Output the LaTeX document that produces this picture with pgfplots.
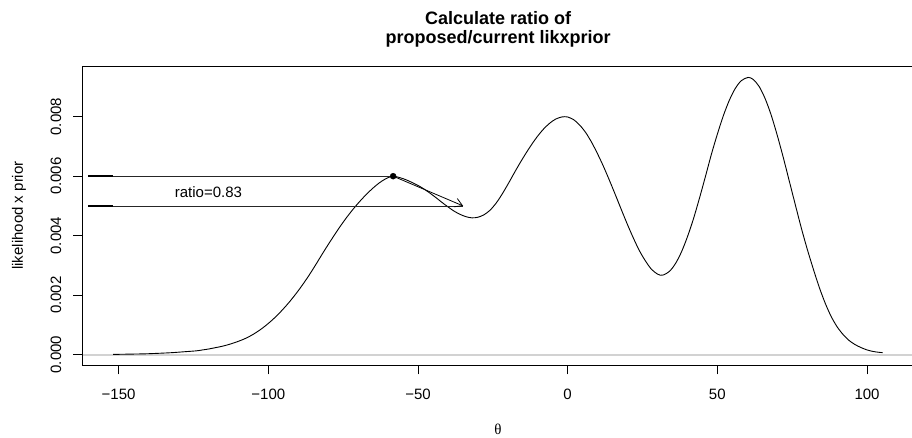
\documentclass[border=0pt]{standalone}
\usepackage{fontspec}
\setmainfont{Liberation Sans}
\newfontfamily\thetafont{Liberation Serif}
\usepackage{pgfplots}
\pgfplotsset{compat=1.18}
\usetikzlibrary{arrows.meta}
\begin{document}
\begin{tikzpicture}[font=\fontsize{15}{18}\selectfont]
\useasboundingbox (0,0) rectangle (912pt,438pt);
\begin{axis}[
  at={(82.7pt,73pt)}, anchor=south west,
  scale only axis, width=830.7pt, height=299pt,
  xmin=-162.0, xmax=115.5, ymin=-0.000346, ymax=0.009704,
  axis line style={black, line width=0.8pt},
  tick pos=left, tick align=outside, major tick length=9.5pt,
  tick style={black, line width=0.8pt},
  xtick={-150,-100,-50,0,50,100},
  xticklabels={−150,−100,−50,0,50,100},
  ytick={0,0.002,0.004,0.006,0.008},
  yticklabels={0.000,0.002,0.004,0.006,0.008},
  scaled ticks=false,
  /pgf/number format/assume math mode=true,
  xticklabel style={anchor=north, inner sep=0pt, yshift=-14.5pt},
  yticklabel style={xshift=-11.7pt, rotate=90, anchor=south, inner sep=0pt},
  every axis y label/.style={at={(axis description cs:-0.0721,0.5)}, rotate=90, anchor=base},
  every axis x label/.style={at={(axis description cs:0.5,-0.233)}, anchor=base},
  every axis title/.style={at={(axis description cs:0.5,1.1826)}, anchor=north, align=center, inner sep=0pt, font=\bfseries\fontsize{18}{18.7}\selectfont},
  title={Calculate ratio of\\proposed/current likxprior},
  xlabel={\thetafont θ},
  ylabel={likelihood x prior},
]
\addplot[gray!35, line width=1.6pt] coordinates {(-162,0) (115.5,0)};
\addplot[black, line width=0.9pt, smooth, tension=0.5] coordinates {
(-151.8,0.00001) (-146,0.00002) (-141,0.00003) (-136,0.00005) (-132,0.00007)
(-128,0.00010) (-124,0.00013) (-122,0.00016) (-120,0.00019) (-118,0.00023)
(-116,0.00027) (-114,0.00032) (-112,0.00038) (-110,0.00045) (-108,0.00053)
(-106,0.00063) (-104,0.00075) (-102,0.00089) (-100,0.00105) (-98,0.00123)
(-96,0.00143) (-94,0.00165) (-92,0.00189) (-90,0.00215) (-88,0.00243)
(-86,0.00273) (-84,0.00305) (-82,0.00338) (-80,0.00370) (-78,0.00401)
(-76,0.00431) (-74,0.00459) (-72,0.00485) (-70,0.00509) (-68,0.00531)
(-66,0.00551) (-64,0.00569) (-62,0.00584) (-60,0.00595) (-58.3,0.00600)
(-56,0.00595) (-54,0.00588) (-52,0.00579) (-50,0.00569) (-48,0.00557)
(-46,0.00543) (-44,0.00528) (-42,0.00512) (-40,0.00497) (-38,0.00483)
(-36,0.00472) (-34,0.00464) (-32,0.00460) (-30,0.00462) (-28,0.00470)
(-26,0.00485) (-24,0.00508) (-22,0.00538) (-20,0.00572) (-18,0.00608)
(-16,0.00643) (-14,0.00676) (-12,0.00707) (-10,0.00735) (-8,0.00759)
(-6,0.00778) (-4,0.00792) (-2,0.00799) (-1,0.00800) (0,0.00799)
(2,0.00790) (4,0.00772) (6,0.00747) (8,0.00714) (10,0.00675)
(12,0.00632) (14,0.00585) (16,0.00536) (18,0.00486) (20,0.00437)
(22,0.00391) (24,0.00349) (26,0.00315) (28,0.00287) (30,0.00271)
(31,0.00267) (32,0.00268) (34,0.00280) (36,0.00306) (38,0.00345)
(40,0.00396) (42,0.00456) (44,0.00525) (46,0.00598) (48,0.00673)
(50,0.00741) (52,0.00803) (54,0.00855) (56,0.00895) (58,0.00921)
(60.3,0.00932) (62,0.00925) (64,0.00901) (66,0.00860) (68,0.00805)
(70,0.00738) (72,0.00664) (74,0.00585) (76,0.00506) (78,0.00428)
(80,0.00356) (82,0.00290) (84,0.00228) (86,0.00174) (88,0.00129)
(90,0.00094) (92,0.00068) (94,0.00048) (96,0.00034) (98,0.00024)
(100,0.00016) (102,0.00011) (104,0.00008) (105.2,0.00007)
};
\addplot[black, line width=2pt] coordinates {(-160.2,0.006) (-152,0.006)};
\addplot[black!85, line width=0.8pt] coordinates {(-152,0.006) (-58.3,0.006)};
\addplot[black, line width=2pt] coordinates {(-160.2,0.005) (-152,0.005)};
\addplot[black!85, line width=0.8pt] coordinates {(-152,0.005) (-34.9,0.005)};
\addplot[black, line width=0.8pt, -{Straight Barb[length=7.5pt,width=9pt]}] coordinates {(-58.3,0.006) (-34.9,0.005)};
\addplot[only marks, mark=*, mark size=3pt, black] coordinates {(-58.3,0.006)};
\node[anchor=center, inner sep=0pt] at (axis cs:-120,0.00548) {ratio=0.83};
\end{axis}
\end{tikzpicture}
\end{document}
